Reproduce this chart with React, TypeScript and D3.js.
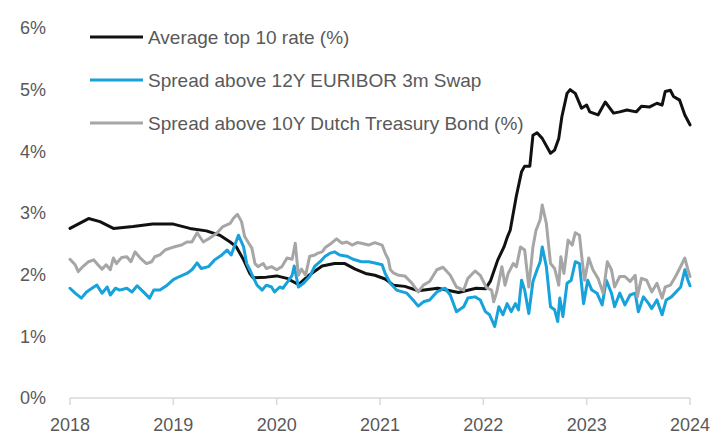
import React from "react";
import * as d3 from "d3";

// ---- Data (decimal year, %) ----
const blackDates = [2018.00,2018.18,2018.29,2018.42,2018.61,2018.80,2019.00,2019.16,2019.32,2019.45,2019.55,2019.61,2019.68,2019.74,2019.77,2019.90,2020.00,2020.10,2020.21,2020.32,2020.44,2020.56,2020.66,2020.76,2020.86,2020.95,2021.05,2021.13,2021.24,2021.37,2021.56,2021.76,2021.93,2022.02,2022.07,2022.14,2022.20,2022.23,2022.26,2022.32,2022.37,2022.40,2022.45,2022.48,2022.52,2022.57,2022.65,2022.69,2022.73,2022.76,2022.81,2022.84,2022.89,2022.95,2023.00,2023.03,2023.11,2023.18,2023.26,2023.32,2023.39,2023.48,2023.53,2023.61,2023.68,2023.73,2023.76,2023.81,2023.84,2023.90,2023.95,2024.00];
const blackValues = [2.75,2.91,2.86,2.75,2.78,2.82,2.82,2.75,2.71,2.64,2.53,2.45,2.24,2.02,1.95,1.96,1.98,1.94,1.84,2.00,2.14,2.18,2.18,2.09,2.02,1.99,1.93,1.83,1.81,1.74,1.78,1.71,1.78,1.77,1.90,2.24,2.45,2.60,2.72,3.28,3.67,3.76,3.76,4.26,4.30,4.21,3.97,4.02,4.21,4.56,4.94,5.00,4.94,4.70,4.75,4.64,4.59,4.80,4.62,4.64,4.67,4.64,4.73,4.72,4.78,4.75,4.97,4.99,4.89,4.83,4.59,4.43];

const blueDates = [2018.00,2018.05,2018.11,2018.16,2018.23,2018.26,2018.31,2018.36,2018.39,2018.44,2018.48,2018.55,2018.60,2018.65,2018.71,2018.77,2018.81,2018.87,2018.94,2019.00,2019.06,2019.13,2019.18,2019.23,2019.27,2019.34,2019.40,2019.47,2019.52,2019.56,2019.63,2019.68,2019.71,2019.74,2019.77,2019.81,2019.86,2019.90,2019.95,2019.98,2020.03,2020.06,2020.10,2020.15,2020.17,2020.21,2020.26,2020.32,2020.37,2020.42,2020.47,2020.52,2020.56,2020.61,2020.68,2020.74,2020.82,2020.89,2020.95,2021.02,2021.05,2021.10,2021.16,2021.26,2021.32,2021.37,2021.42,2021.48,2021.55,2021.63,2021.68,2021.74,2021.81,2021.85,2021.92,2021.97,2022.02,2022.06,2022.11,2022.15,2022.19,2022.23,2022.27,2022.31,2022.34,2022.37,2022.40,2022.44,2022.48,2022.52,2022.55,2022.57,2022.61,2022.65,2022.69,2022.72,2022.74,2022.77,2022.81,2022.85,2022.89,2022.93,2022.97,2023.01,2023.05,2023.10,2023.15,2023.19,2023.24,2023.27,2023.32,2023.37,2023.42,2023.47,2023.50,2023.55,2023.60,2023.63,2023.68,2023.73,2023.77,2023.82,2023.91,2023.95,2023.98,2024.00];
const blueValues = [1.78,1.70,1.62,1.72,1.80,1.83,1.70,1.80,1.67,1.78,1.75,1.78,1.72,1.82,1.72,1.62,1.75,1.75,1.83,1.92,1.97,2.02,2.08,2.19,2.10,2.13,2.24,2.32,2.40,2.32,2.64,2.45,2.18,2.08,1.97,1.83,1.75,1.83,1.80,1.72,1.80,1.78,1.87,1.99,2.14,1.80,1.86,1.97,2.14,2.21,2.30,2.35,2.37,2.32,2.30,2.25,2.21,2.21,2.19,2.16,2.02,1.86,1.75,1.70,1.59,1.49,1.56,1.59,1.72,1.78,1.67,1.40,1.48,1.62,1.64,1.59,1.40,1.35,1.16,1.48,1.35,1.53,1.40,1.53,1.43,1.91,1.75,1.37,1.89,2.08,2.21,2.45,2.13,1.48,1.43,1.24,1.62,1.32,1.86,1.91,2.21,2.18,1.53,1.91,1.75,1.70,1.51,1.91,1.70,1.48,1.70,1.51,1.67,1.70,1.40,1.64,1.53,1.45,1.59,1.35,1.59,1.64,1.80,2.08,1.91,1.82];

const grayDates = [2018.00,2018.05,2018.08,2018.13,2018.18,2018.23,2018.27,2018.31,2018.35,2018.39,2018.42,2018.45,2018.50,2018.55,2018.59,2018.63,2018.68,2018.74,2018.79,2018.82,2018.87,2018.92,2018.97,2019.03,2019.08,2019.13,2019.18,2019.23,2019.29,2019.35,2019.42,2019.48,2019.55,2019.58,2019.62,2019.66,2019.69,2019.73,2019.76,2019.79,2019.82,2019.87,2019.90,2019.95,2020.00,2020.05,2020.10,2020.15,2020.18,2020.21,2020.24,2020.28,2020.32,2020.37,2020.40,2020.44,2020.47,2020.53,2020.58,2020.63,2020.68,2020.73,2020.78,2020.82,2020.89,2020.95,2021.02,2021.05,2021.08,2021.10,2021.13,2021.18,2021.24,2021.31,2021.37,2021.42,2021.48,2021.55,2021.61,2021.68,2021.74,2021.81,2021.85,2021.92,2021.97,2022.03,2022.08,2022.10,2022.13,2022.18,2022.21,2022.24,2022.29,2022.32,2022.36,2022.40,2022.44,2022.48,2022.51,2022.55,2022.57,2022.61,2022.65,2022.69,2022.73,2022.75,2022.78,2022.82,2022.86,2022.89,2022.93,2022.96,2022.98,2023.02,2023.06,2023.11,2023.16,2023.20,2023.24,2023.27,2023.32,2023.37,2023.42,2023.47,2023.49,2023.53,2023.58,2023.63,2023.68,2023.73,2023.76,2023.81,2023.86,2023.90,2023.95,2023.98,2024.00];
const grayValues = [2.25,2.16,2.05,2.14,2.21,2.24,2.16,2.09,2.16,2.08,2.27,2.18,2.28,2.29,2.21,2.37,2.27,2.18,2.21,2.29,2.32,2.40,2.43,2.46,2.48,2.53,2.53,2.68,2.53,2.59,2.67,2.78,2.83,2.91,2.98,2.86,2.62,2.51,2.43,2.18,2.13,2.18,2.10,2.13,2.08,2.13,2.27,2.25,2.51,1.99,2.09,1.99,2.30,2.32,2.35,2.37,2.44,2.51,2.58,2.51,2.53,2.48,2.52,2.51,2.48,2.52,2.48,2.35,2.25,2.08,2.03,1.99,1.98,1.86,1.72,1.83,1.89,2.08,2.12,1.99,1.80,1.75,1.94,2.06,1.99,1.79,1.75,1.56,1.72,2.13,1.83,2.02,2.18,2.13,2.45,2.40,1.80,2.45,2.72,2.89,3.13,2.83,2.18,2.10,1.83,2.29,2.02,2.56,2.48,2.68,2.64,2.18,1.91,2.27,2.08,1.94,1.70,2.21,2.08,1.80,1.97,1.97,1.89,1.99,1.64,1.94,1.91,1.72,1.86,1.62,1.80,1.83,1.97,2.10,2.27,2.08,1.97];

const yTicks = [0, 1, 2, 3, 4, 5, 6];
const xTicks = [2018, 2019, 2020, 2021, 2022, 2023, 2024];
const seriesNames = [
  "Average top 10 rate (%)",
  "Spread above 12Y EURIBOR 3m Swap",
  "Spread above 10Y Dutch Treasury Bond (%)",
];
const seriesColors = ["#111111", "#17a2dc", "#a6a6a6"];

const W = 714;
const H = 436;
const FONT = "'Liberation Sans', Arial, sans-serif";

export default function App() {
  const x = d3.scaleLinear().domain([2018, 2024]).range([70, 690]);
  const y = d3.scaleLinear().domain([0, 6]).range([398, 28]);
  const line = d3
    .line<[number, number]>()
    .x((d) => x(d[0]))
    .y((d) => y(d[1]))
    .curve(d3.curveLinear);

  const series = [
    { dates: blackDates, values: blackValues },
    { dates: blueDates, values: blueValues },
    { dates: grayDates, values: grayValues },
  ];

  const legendY = [37, 80, 123];

  return (
    <svg
      width={W}
      height={H}
      style={{ position: "absolute", left: 0, top: 0, background: "#fff" }}
      fontFamily={FONT}
    >
      {/* y tick labels */}
      {yTicks.map((t) => (
        <text
          key={t}
          x={46}
          y={y(t)}
          dy="0.35em"
          textAnchor="end"
          fontSize={18}
          fill="#595959"
        >
          {t + "%"}
        </text>
      ))}
      {/* x axis */}
      <line x1={x(2018)} x2={x(2024)} y1={y(0)} y2={y(0)} stroke="#d9d9d9" strokeWidth={1.5} />
      {xTicks.map((t) => (
        <g key={t}>
          <line x1={x(t)} x2={x(t)} y1={y(0)} y2={y(0) + 7} stroke="#d9d9d9" strokeWidth={1.5} />
          <text x={x(t)} y={y(0) + 27} dy="0.35em" textAnchor="middle" fontSize={18} fill="#595959">
            {t}
          </text>
        </g>
      ))}
      {/* lines */}
      {series.map((s, i) => (
        <path
          key={i}
          d={line(s.dates.map((d, j) => [d, s.values[j]] as [number, number])) || ""}
          fill="none"
          stroke={seriesColors[i]}
          strokeWidth={3}
          strokeLinejoin="round"
          strokeLinecap="round"
        />
      ))}
      {/* legend */}
      {seriesNames.map((n, i) => (
        <g key={n}>
          <line x1={90} x2={143} y1={legendY[i]} y2={legendY[i]} stroke={seriesColors[i]} strokeWidth={3} />
          <text x={148} y={legendY[i]} dy="0.35em" fontSize={19} fill="#595959">
            {n}
          </text>
        </g>
      ))}
    </svg>
  );
}
